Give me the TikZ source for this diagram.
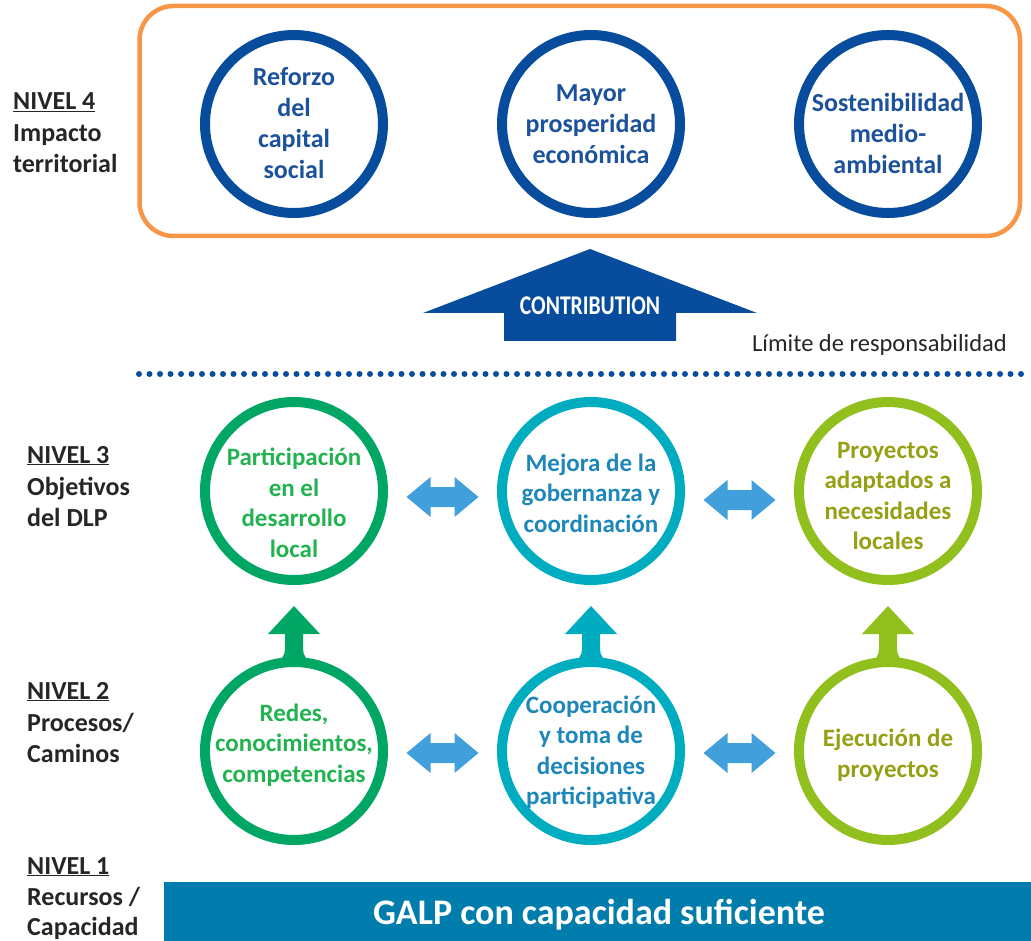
\documentclass[tikz,border=0pt]{standalone}
\usepackage{fontspec}
\usepackage{graphicx}
\setmainfont{Carlito}
\usetikzlibrary{calc}
\pgfdeclarelayer{bg}
\pgfsetlayers{bg,main}
\definecolor{cNavy}{RGB}{8,76,158}
\definecolor{cNavyTxt}{RGB}{28,82,155}
\definecolor{cGrn}{RGB}{0,166,100}
\definecolor{cGrnTxt}{RGB}{35,178,80}
\definecolor{cTeal}{RGB}{0,172,192}
\definecolor{cTealTxt}{RGB}{30,135,185}
\definecolor{cLime}{RGB}{145,192,30}
\definecolor{cLimeTxt}{RGB}{150,160,20}
\definecolor{cOrange}{RGB}{247,150,70}
\definecolor{cBar}{RGB}{0,125,172}
\definecolor{cArr}{RGB}{65,160,220}
\begin{document}
\begin{tikzpicture}[x=1pt,y=-1pt,
  ring/.style={circle, minimum size=178pt, inner sep=0pt, line width=10pt, fill=white, draw=#1},
  ctext/.style={align=center, font=\fontsize{25}{30.5}\selectfont\bfseries, text=#1, inner sep=0pt},
  lab/.style={anchor=base west, inner sep=0pt, font=\fontsize{26}{30}\selectfont\bfseries, text=black!85},
  dblarrow/.pic={\fill[cArr] (-36,0) -- (-12,-20) -- (-12,-10) -- (12,-10) -- (12,-20) -- (36,0) -- (12,20) -- (12,10) -- (-12,10) -- (-12,20) -- cycle;},
  uparrow/.pic={\fill[#1] (0,-145) -- (26,-117) -- (9,-117) -- (9,-102) .. controls (9,-88) and (25,-84) .. (50,-79.6) -- (50,-40) -- (-50,-40) -- (-50,-79.6) .. controls (-25,-84) and (-9,-88) .. (-9,-102) -- (-9,-117) -- (-26,-117) -- cycle;}
]
\useasboundingbox (0,0) rectangle (1031,941);

% Level 4 frame
\draw[cOrange, line width=4.5pt, rounded corners=34pt] (139.5,6) rectangle (1020,236);

% Level labels
\node[lab] (n4) at (13,110) {\underline{NIVEL 4}};
\node[lab] (n4a) at (13,142) {Impacto};
\node[lab] (n4b) at (13,173) {territorial};
\node[lab] (n3) at (27,463) {\underline{NIVEL 3}};
\node[lab] (n3a) at (27,495) {Objetivos};
\node[lab] (n3b) at (27,526) {del DLP};
\node[lab] (n2) at (27,699) {\underline{NIVEL 2}};
\node[lab] (n2a) at (27,731) {Procesos/};
\node[lab] (n2b) at (27,762) {Caminos};
\node[lab] (n1) at (27,874) {\underline{NIVEL 1}};
\node[lab] (n1a) at (27,905) {Recursos /};
\node[lab] (n1b) at (27,935) {Capacidad};

% Level 4 circles
\node[ring=cNavy] (a1) at (294,124) {};
\node[ring=cNavy] (a2) at (591,124) {};
\node[ring=cNavy] (a3) at (888,124) {};
\node[ctext=cNavyTxt, font=\fontsize{26}{31}\selectfont\bfseries] (ta1) at ($(a1)+(0,-1)$) {Reforzo\\del\\capital\\social};
\node[ctext=cNavyTxt, font=\fontsize{26}{31}\selectfont\bfseries] (ta2) at ($(a2)+(0,0)$) {Mayor\\prosperidad\\económica};
\node[ctext=cNavyTxt, font=\fontsize{26}{31}\selectfont\bfseries] (ta3) at ($(a3)+(0,9)$) {Sostenibilidad\\medio-\\ambiental};

% Contribution arrow
\fill[cNavy] (423,313) -- (590,249) -- (757,313) -- (676,313) -- (676,341) -- (504,341) -- (504,313) -- cycle;
\node[inner sep=0pt, text=white, font=\fontsize{27}{27}\selectfont\bfseries] (contrib) at (590,306) {\scalebox{0.8}[1]{CONTRIBUTION}};
\node[anchor=base west, inner sep=0pt, font=\fontsize{24.5}{24.5}\selectfont, text=black!85] (limite) at (752,352) {Límite de responsabilidad};

% Dotted boundary
\coordinate (dl) at (139,374);
\coordinate (dr) at (1031,374);
\draw[cNavy, line width=6pt, line cap=round, dash pattern=on 0pt off 10.5pt] (dl) -- (dr);

% Level 3 circles
\node[ring=cGrn] (b1) at (294,491) {};
\node[ring=cTeal] (b2) at (591,491) {};
\node[ring=cLime] (b3) at (888,491) {};
\node[ctext=cGrnTxt] (tb1) at ($(b1)+(0,12)$) {Participación\\en el\\desarrollo\\local};
\node[ctext=cTealTxt] (tb2) at ($(b2)+(0,2)$) {Mejora de la\\gobernanza y\\coordinación};
\node[ctext=cLimeTxt] (tb3) at ($(b3)+(0,5)$) {Proyectos\\adaptados a\\necesidades\\locales};

% Level 2 circles
\node[ring=cGrn] (c1) at (294,751) {};
\node[ring=cTeal] (c2) at (591,751) {};
\node[ring=cLime] (c3) at (888,751) {};
\node[ctext=cGrnTxt] (tc1) at ($(c1)+(0,-6)$) {Redes,\\conocimientos,\\competencias};
\node[ctext=cTealTxt] (tc2) at ($(c2)+(0,1)$) {Cooperación\\y toma de\\decisiones\\participativa};
\node[ctext=cLimeTxt] (tc3) at ($(c3)+(0,4)$) {Ejecución de\\proyectos};

% Up arrows (behind circles)
\begin{pgfonlayer}{bg}
\pic at (c1) {uparrow=cGrn};
\pic at (c2) {uparrow=cTeal};
\pic at (c3) {uparrow=cLime};
\end{pgfonlayer}

% Double arrows
\pic at ($(b1)!0.5!(b2)+(0,6)$) {dblarrow};
\pic at ($(b2)!0.5!(b3)+(0,9)$) {dblarrow};
\pic at ($(c1)!0.5!(c2)+(0,2)$) {dblarrow};
\pic at ($(c2)!0.5!(c3)+(0,2)$) {dblarrow};

% Level 1 bar
\node[fill=cBar, inner sep=0pt, minimum width=867pt, minimum height=59pt, anchor=north west] (bar) at (164,882) {};
\node[anchor=base, inner sep=0pt, text=white, font=\fontsize{36}{36}\selectfont\bfseries] (galp) at (599,924) {GALP con capacidad suficiente};
\end{tikzpicture}
\end{document}
